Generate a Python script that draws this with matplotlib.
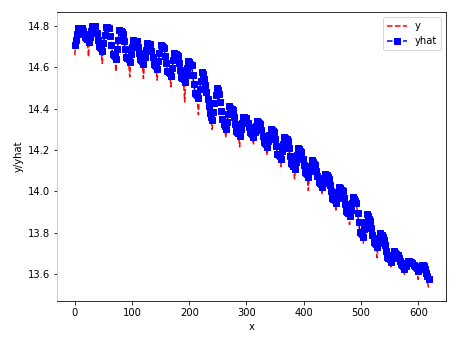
import numpy as np
import matplotlib.pyplot as plt

# hourly series, read every 2nd point off the chart (one row = one day)
y = [
    14.658, 14.723, 14.759, 14.792, 14.787, 14.790, 14.784, 14.775, 14.757, 14.748, 14.738, 14.727,
    14.650, 14.737, 14.770, 14.802, 14.797, 14.801, 14.795, 14.768, 14.731, 14.704, 14.694, 14.683,
    14.618, 14.706, 14.752, 14.797, 14.791, 14.793, 14.786, 14.750, 14.704, 14.668, 14.658, 14.647,
    14.578, 14.677, 14.730, 14.782, 14.772, 14.770, 14.758, 14.726, 14.686, 14.654, 14.644, 14.633,
    14.553, 14.651, 14.692, 14.732, 14.726, 14.728, 14.721, 14.698, 14.667, 14.644, 14.634, 14.623,
    14.545, 14.639, 14.679, 14.717, 14.712, 14.715, 14.708, 14.681, 14.645, 14.618, 14.608, 14.597,
    14.537, 14.618, 14.664, 14.707, 14.699, 14.698, 14.689, 14.658, 14.617, 14.586, 14.576, 14.565,
    14.505, 14.585, 14.630, 14.672, 14.663, 14.662, 14.652, 14.623, 14.586, 14.557, 14.547, 14.536,
    14.432, 14.553, 14.593, 14.632, 14.621, 14.618, 14.606, 14.566, 14.518, 14.478, 14.468, 14.457,
    14.370, 14.482, 14.530, 14.577, 14.564, 14.547, 14.512, 14.482, 14.443, 14.413, 14.378, 14.352,
    14.300, 14.375, 14.422, 14.467, 14.498, 14.492, 14.467, 14.432, 14.388, 14.353, 14.323, 14.307,
    14.260, 14.327, 14.370, 14.412, 14.402, 14.400, 14.388, 14.360, 14.324, 14.296, 14.286, 14.275,
    14.215, 14.289, 14.326, 14.362, 14.356, 14.357, 14.350, 14.333, 14.307, 14.290, 14.280, 14.269,
    14.225, 14.278, 14.311, 14.342, 14.333, 14.332, 14.322, 14.299, 14.266, 14.243, 14.233, 14.222,
    14.175, 14.233, 14.269, 14.302, 14.294, 14.293, 14.284, 14.254, 14.215, 14.185, 14.175, 14.164,
    14.120, 14.183, 14.226, 14.267, 14.256, 14.253, 14.241, 14.210, 14.169, 14.138, 14.128, 14.117,
    14.060, 14.133, 14.174, 14.212, 14.201, 14.197, 14.185, 14.159, 14.124, 14.098, 14.088, 14.077,
    14.005, 14.087, 14.120, 14.152, 14.140, 14.136, 14.123, 14.101, 14.070, 14.048, 14.038, 14.027,
    13.985, 14.032, 14.060, 14.087, 14.075, 14.071, 14.058, 14.032, 13.998, 13.972, 13.962, 13.951,
    13.910, 13.959, 13.992, 14.022, 14.012, 14.011, 14.000, 13.972, 13.936, 13.908, 13.898, 13.887,
    13.840, 13.902, 13.940, 13.977, 13.962, 13.956, 13.940, 13.899, 13.849, 13.808, 13.798, 13.787,
    13.750, 13.807, 13.850, 13.892, 13.877, 13.870, 13.853, 13.824, 13.787, 13.758, 13.748, 13.737,
    13.680, 13.743, 13.774, 13.802, 13.787, 13.780, 13.763, 13.741, 13.710, 13.688, 13.678, 13.667,
    13.635, 13.667, 13.690, 13.712, 13.702, 13.701, 13.690, 13.681, 13.662, 13.653, 13.643, 13.632,
    13.600, 13.628, 13.649, 13.667, 13.661, 13.662, 13.655, 13.654, 13.644, 13.643, 13.633, 13.622,
    13.575, 13.618, 13.632, 13.647, 13.641, 13.642, 13.622, 13.600, 13.570, 13.535,
]

yhat = [
    14.705, 14.733, 14.762, 14.790, 14.789, 14.788, 14.787, 14.773, 14.759, 14.745, 14.740, 14.735,
    14.720, 14.747, 14.773, 14.800, 14.799, 14.799, 14.798, 14.766, 14.733, 14.701, 14.696, 14.691,
    14.676, 14.716, 14.755, 14.795, 14.793, 14.791, 14.789, 14.748, 14.706, 14.665, 14.660, 14.655,
    14.640, 14.687, 14.733, 14.780, 14.774, 14.768, 14.761, 14.724, 14.688, 14.651, 14.646, 14.641,
    14.626, 14.661, 14.695, 14.730, 14.728, 14.726, 14.724, 14.696, 14.669, 14.641, 14.636, 14.631,
    14.616, 14.649, 14.682, 14.715, 14.714, 14.713, 14.711, 14.679, 14.647, 14.615, 14.610, 14.605,
    14.590, 14.628, 14.667, 14.705, 14.701, 14.696, 14.692, 14.656, 14.619, 14.583, 14.578, 14.573,
    14.558, 14.595, 14.633, 14.670, 14.665, 14.660, 14.655, 14.621, 14.588, 14.554, 14.549, 14.544,
    14.529, 14.563, 14.596, 14.630, 14.623, 14.616, 14.609, 14.564, 14.520, 14.475, 14.470, 14.465,
    14.450, 14.492, 14.533, 14.575, 14.566, 14.545, 14.515, 14.480, 14.445, 14.410, 14.380, 14.360,
    14.345, 14.385, 14.425, 14.465, 14.500, 14.490, 14.470, 14.430, 14.390, 14.350, 14.325, 14.315,
    14.300, 14.337, 14.373, 14.410, 14.404, 14.398, 14.391, 14.358, 14.326, 14.293, 14.288, 14.283,
    14.268, 14.299, 14.329, 14.360, 14.358, 14.355, 14.353, 14.331, 14.309, 14.287, 14.282, 14.277,
    14.262, 14.288, 14.314, 14.340, 14.335, 14.330, 14.325, 14.297, 14.268, 14.240, 14.235, 14.230,
    14.215, 14.243, 14.272, 14.300, 14.296, 14.291, 14.287, 14.252, 14.217, 14.182, 14.177, 14.172,
    14.157, 14.193, 14.229, 14.265, 14.258, 14.251, 14.244, 14.208, 14.171, 14.135, 14.130, 14.125,
    14.110, 14.143, 14.177, 14.210, 14.203, 14.195, 14.188, 14.157, 14.126, 14.095, 14.090, 14.085,
    14.070, 14.097, 14.123, 14.150, 14.142, 14.134, 14.126, 14.099, 14.072, 14.045, 14.040, 14.035,
    14.020, 14.042, 14.063, 14.085, 14.077, 14.069, 14.061, 14.030, 14.000, 13.969, 13.964, 13.959,
    13.944, 13.969, 13.995, 14.020, 14.014, 14.009, 14.003, 13.970, 13.938, 13.905, 13.900, 13.895,
    13.880, 13.912, 13.943, 13.975, 13.964, 13.954, 13.943, 13.897, 13.851, 13.805, 13.800, 13.795,
    13.780, 13.817, 13.853, 13.890, 13.879, 13.868, 13.856, 13.822, 13.789, 13.755, 13.750, 13.745,
    13.730, 13.753, 13.777, 13.800, 13.789, 13.778, 13.766, 13.739, 13.712, 13.685, 13.680, 13.675,
    13.660, 13.677, 13.693, 13.710, 13.704, 13.699, 13.693, 13.679, 13.664, 13.650, 13.645, 13.640,
    13.625, 13.638, 13.652, 13.665, 13.663, 13.660, 13.658, 13.652, 13.646, 13.640, 13.635, 13.630,
    13.615, 13.625, 13.635, 13.645, 13.643, 13.640, 13.625, 13.605, 13.590, 13.575,
]

x = np.arange(0, 2 * len(y), 2)

fig = plt.figure(figsize=(453 / 72, 338 / 72), dpi=72)
ax = fig.add_subplot(111)
fig.subplots_adjust(left=0.126, right=0.985, bottom=0.11, top=0.964)

ax.plot(x, y, 'r--', label='y')
ax.plot(x, yhat, 'b--', marker='s', markersize=6, label='yhat')
ax.set_xlabel('x')
ax.set_ylabel('y/yhat')
ax.legend(loc='upper right')
ax.spines['left'].set_color('#c0c0c0')

fig.savefig('out.png', dpi=72)
